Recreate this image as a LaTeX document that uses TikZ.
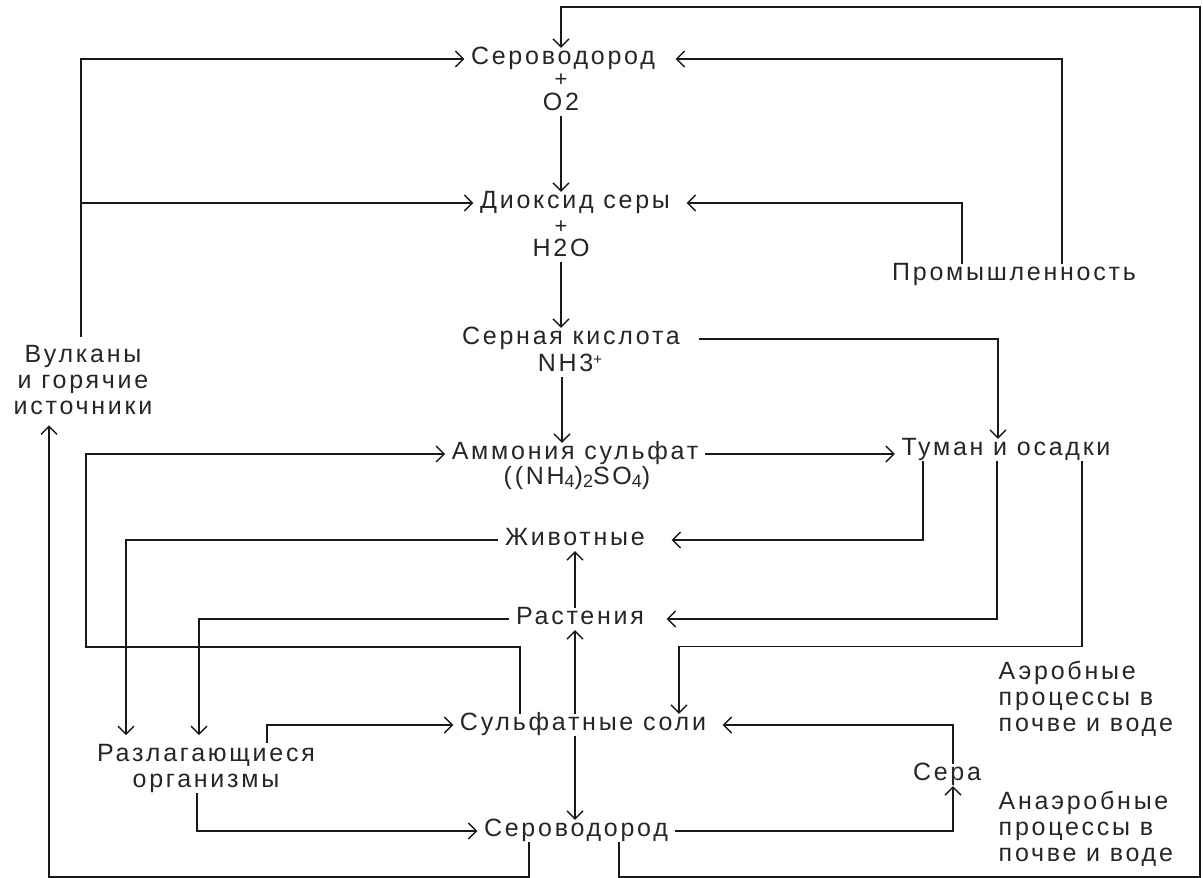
\documentclass[tikz,border=0pt]{standalone}
\usepackage{fontspec}
\newfontfamily\lbfont[LetterSpace=11]{Liberation Sans}
\usetikzlibrary{calc,arrows.meta}
\newcommand{\plusup}{\raisebox{7pt}{\fontsize{15}{15}\selectfont+}}
\newcommand{\lowdig}[1]{\raisebox{-3pt}{\fontsize{18}{18}\selectfont #1}}

\begin{document}
\begin{tikzpicture}[x=1pt,y=-1pt,line width=1.4pt,draw=black!90,
  lbl/.style={font=\lbfont\fontsize{25}{26}\selectfont,text=black!85,inner xsep=6pt,inner ysep=0pt,text height=16pt,text depth=5pt},
  multi/.style={font=\lbfont\fontsize{25}{26}\selectfont,text=black!85,inner sep=0pt},
  plusmark/.style={font=\lbfont\fontsize{22}{22}\selectfont,text=black!85,inner sep=0pt},
  arr/.style={-{Straight Barb[length=8pt,width=16pt]}},
]
\useasboundingbox (0,0) rectangle (1203,878);

\node (h2sT)  [lbl]      at (563,59)   {Сероводород};
\node (plusA) [plusmark] at (561,80)   {+};
\node (o2)    [lbl]      at (561,105)  {O2};
\node (so2)   [lbl]      at (575,203)  {Диоксид серы};
\node (plusB) [plusmark] at (561,227)  {+};
\node (h2o)   [lbl]      at (561,251)  {H2O};
\node (prom)  [lbl]      at (1014,275) {Промышленность};
\node (h2so4) [lbl]      at (571,339)  {Серная кислота};
\node (nh3)   [lbl]      at (570,366)  {NH3\plusup};
\node (vulk)  [multi,align=center] at (83,380) {Вулканы\\и горячие\\источники};
\node (amm)   [lbl]      at (575,454)  {Аммония сульфат};
\node (ammf)  [lbl]      at (577,479)  {((NH\lowdig{4})\lowdig{2}SO\lowdig{4})};
\node (tuman) [lbl]      at (1006,450) {Туман и осадки};
\node (zhiv)  [lbl]      at (575,540)  {Животные};
\node (rast)  [lbl]      at (580,619)  {Растения};
\node (aer)   [multi,align=left,anchor=west] at (998,699) {Аэробные\\процессы в\\почве и воде};
\node (sulf)  [lbl]      at (583,725)  {Сульфатные соли};
\node (razl)  [multi,align=center] at (206,768) {Разлагающиеся\\организмы};
\node (sera)  [lbl]      at (947,775)  {Сера};
\node (h2sB)  [lbl]      at (576,831)  {Сероводород};
\node (anaer) [multi,align=left,anchor=west] at (998,829) {Анаэробные\\процессы в\\почве и воде};

\coordinate (cBL) at (49,877);
\coordinate (cBR) at (1200,877);
\coordinate (cTR) at (1200,7);
\coordinate (ammBend) at (86,647);
\coordinate (vulkTop) at ([xshift=-2pt,yshift=8pt]vulk.north);
\coordinate (vulkBot) at ([xshift=-34pt,yshift=-10pt]vulk.south);
\coordinate (razlTop) at ([yshift=8pt]razl.north);

% sources above
\draw[arr] (vulkTop) |- (h2sT.west);
\draw[arr] (vulkTop |- so2.west) -- (so2.west);
\draw[arr] ([xshift=48pt]prom.north) |- ([xshift=14pt]h2sT.east);
\draw[arr] ([xshift=-52pt]prom.north) |- ([xshift=10pt]so2.east);

% main column
\draw[arr] (o2.south) -- (o2.south |- so2.north);
\draw[arr] (h2o.south) -- (h2o.south |- h2so4.north);
\draw[arr] ([xshift=-8pt]nh3.south) -- ([xshift=-8pt]nh3.south |- amm.north);
\draw[arr] ([xshift=12pt]h2so4.east) -| ([xshift=-8pt]tuman.north);
\draw[arr] (amm.east) -- (amm.east -| tuman.west);

% fog and rain
\draw[arr] ([xshift=-83pt]tuman.south) |- ([xshift=20pt]zhiv.east);
\draw[arr] ([xshift=-9pt]tuman.south) |- ([xshift=16pt]rast.east);
\draw[arr] ([xshift=76pt]tuman.south) -- ++(0,185) -| ([xshift=96pt]sulf.north);

% living things
\draw[arr] ([xshift=-5pt]rast.north) -- ([xshift=-5pt]rast.north |- zhiv.south);
\draw[arr] ([xshift=-8pt]sulf.north) -- ([xshift=-8pt]sulf.north |- rast.south);
\draw[arr] ([xshift=-8pt]sulf.south) -- ([xshift=-8pt]sulf.south |- h2sB.north);
\draw[arr] (zhiv.west) -| ([xshift=-80pt]razlTop);
\draw[arr] (rast.west) -| ([xshift=-7pt]razlTop);
\draw[arr] ([xshift=-63pt]sulf.north) |- (ammBend) |- (amm.west);
\draw[arr] ([xshift=61pt]razl.north) |- (sulf.west);
\draw[arr] ([xshift=-9pt]razl.south) |- (h2sB.west);

% sulphur
\draw[arr] (h2sB.east) -| ([xshift=6pt]sera.south);
\draw[arr] ([xshift=6pt]sera.north) |- ([xshift=10pt]sulf.east);

% back to the top
\draw[arr] ([xshift=-47pt]h2sB.south) |- (cBL) -- (vulkBot);
\draw[arr] ([xshift=43pt]h2sB.south) |- (cBR) -- (cTR) -| ([xshift=-2pt]h2sT.north);
\end{tikzpicture}
\end{document}
